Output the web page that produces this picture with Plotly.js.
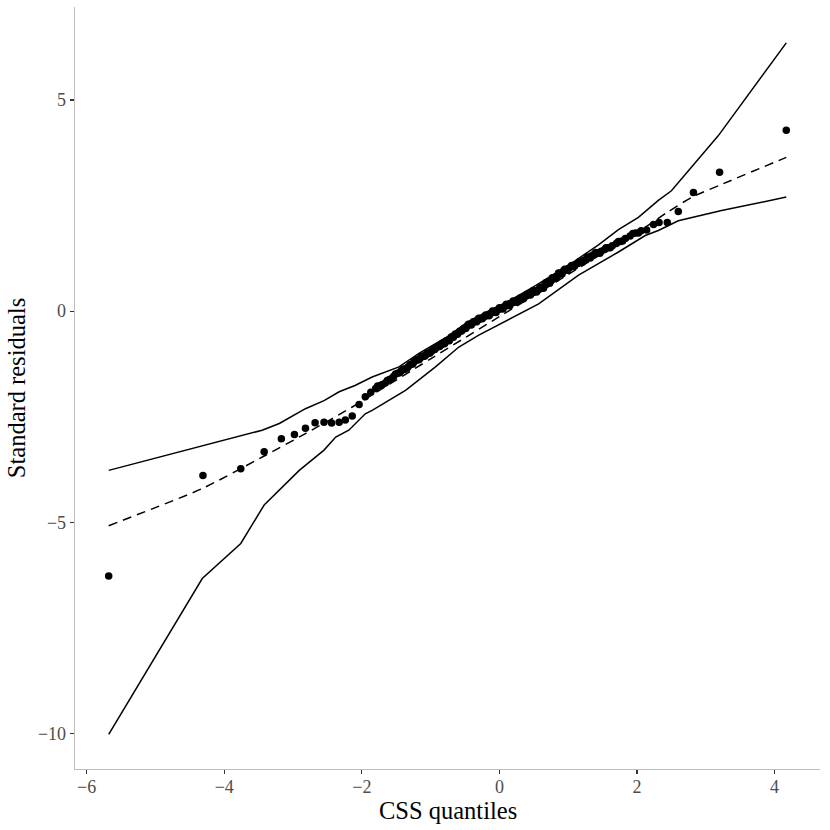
<!DOCTYPE html>
<html>
<head>
<meta charset="utf-8">
<script src="https://cdn.plot.ly/plotly-3.0.1.min.js"></script>
<style>html,body{margin:0;padding:0;background:#fff;}#chart{width:830px;height:830px;}</style>
</head>
<body>
<div id="chart"></div>
<script>
// Points: CSS quantiles (x) vs standard residuals (y)
var pointX = [-5.68,-4.31,-3.76,-3.42,-3.17,-2.98,-2.82,-2.68,-2.55,-2.44,-2.33,-2.24,-2.14,-2.04,-1.95,-1.87,-1.80,-1.73,-1.66,-1.60,-1.54,-1.48,-1.43,-1.38,-1.33,-1.28,-1.24,-1.19,-1.15,-1.11,-1.07,-1.03,-0.99,-0.96,-0.92,-0.89,-0.85,-0.82,-0.79,-0.75,-0.72,-0.69,-0.66,-0.63,-0.60,-0.57,-0.54,-0.51,-0.48,-0.46,-0.43,-0.40,-0.37,-0.35,-0.32,-0.29,-0.27,-0.24,-0.22,-0.19,-0.16,-0.14,-0.11,-0.09,-0.06,-0.04,-0.01,0.01,0.04,0.06,0.09,0.11,0.14,0.16,0.19,0.21,0.24,0.26,0.29,0.31,0.34,0.36,0.39,0.42,0.44,0.47,0.50,0.52,0.55,0.58,0.61,0.63,0.66,0.69,0.72,0.75,0.78,0.81,0.84,0.87,0.90,0.93,0.97,1.00,1.03,1.07,1.10,1.14,1.18,1.22,1.26,1.30,1.34,1.38,1.43,1.48,1.53,1.58,1.64,1.70,1.76,1.83,1.90,1.98,2.06,2.14,2.24,2.32,2.44,2.60,2.82,3.20,4.17];
var pointY = [-6.27,-3.89,-3.73,-3.33,-3.02,-2.92,-2.77,-2.64,-2.63,-2.65,-2.63,-2.58,-2.48,-2.21,-2.03,-1.92,-1.83,-1.76,-1.70,-1.62,-1.55,-1.47,-1.42,-1.38,-1.32,-1.26,-1.20,-1.15,-1.11,-1.07,-1.04,-1.00,-0.95,-0.91,-0.87,-0.84,-0.80,-0.77,-0.74,-0.69,-0.66,-0.62,-0.58,-0.55,-0.51,-0.47,-0.44,-0.40,-0.37,-0.34,-0.31,-0.29,-0.26,-0.24,-0.21,-0.19,-0.17,-0.15,-0.13,-0.11,-0.08,-0.06,-0.04,-0.02,0.00,0.02,0.04,0.06,0.08,0.10,0.12,0.14,0.16,0.18,0.20,0.22,0.24,0.26,0.28,0.30,0.32,0.34,0.36,0.39,0.41,0.43,0.45,0.47,0.49,0.52,0.55,0.58,0.61,0.65,0.69,0.72,0.76,0.80,0.84,0.88,0.91,0.95,0.98,1.01,1.04,1.07,1.10,1.13,1.16,1.20,1.23,1.27,1.31,1.35,1.38,1.42,1.46,1.50,1.55,1.60,1.65,1.72,1.78,1.85,1.90,1.92,2.05,2.10,2.10,2.36,2.81,3.29,4.28];
// Further points in the dense central band
var bandX = [-1.77,-1.70,-1.63,-1.57,-1.51,-1.45,-1.40,-1.35,-1.30,-1.26,-1.21,-1.17,-1.13,-1.09,-1.05,-1.01,-0.97,-0.94,-0.90,-0.87,-0.83,-0.80,-0.77,-0.73,-0.70,-0.67,-0.64,-0.61,-0.58,-0.55,-0.52,-0.49,-0.45,-0.41,-0.38,-0.33,-0.30,-0.25,-0.20,-0.15,-0.10,-0.05,0.00,0.05,0.10,0.15,0.20,0.25,0.30,0.35,0.40,0.45,0.49,0.54,0.59,0.64,0.68,0.73,0.77,0.82,0.86,0.91,0.95,0.99,1.05,1.09,1.16,1.20,1.28,1.32,1.40,1.46,1.55,1.61,1.73,1.79,1.94,2.02];
var bandY = [-1.77,-1.74,-1.64,-1.60,-1.49,-1.46,-1.37,-1.36,-1.27,-1.25,-1.16,-1.15,-1.07,-1.07,-0.99,-0.99,-0.92,-0.91,-0.84,-0.84,-0.76,-0.77,-0.70,-0.70,-0.61,-0.62,-0.54,-0.55,-0.48,-0.47,-0.41,-0.41,-0.31,-0.33,-0.25,-0.25,-0.17,-0.18,-0.09,-0.11,0.00,-0.03,0.08,0.05,0.16,0.13,0.24,0.21,0.31,0.29,0.40,0.38,0.48,0.45,0.56,0.54,0.68,0.66,0.79,0.77,0.90,0.88,0.99,0.97,1.08,1.06,1.17,1.15,1.28,1.26,1.39,1.37,1.50,1.50,1.65,1.66,1.84,1.85];

// Dashed reference curve
var refX = [-5.68,-4.32,-3.42,-2.82,-2.14,-1.00,0.00,1.00,2.12,2.45,2.80,3.20,4.17];
var refY = [-5.08,-4.20,-3.43,-2.90,-2.27,-1.13,-0.13,0.87,1.99,2.35,2.70,2.98,3.64];

// Upper envelope
var upX = [-5.68,-4.30,-3.45,-3.20,-2.82,-2.55,-2.33,-2.10,-1.85,-1.46,-1.17,-0.88,-0.59,0.00,0.50,1.00,1.44,1.73,2.02,2.31,2.50,3.18,4.17];
var upY = [-3.77,-3.19,-2.82,-2.66,-2.31,-2.12,-1.91,-1.76,-1.56,-1.32,-1.00,-0.72,-0.45,0.10,0.58,1.08,1.57,1.93,2.22,2.62,2.85,4.15,6.35];

// Lower envelope
var loX = [-5.68,-4.32,-3.76,-3.42,-2.91,-2.55,-2.38,-2.19,-1.95,-1.85,-1.36,-0.93,-0.59,-0.30,0.57,1.15,1.73,2.12,2.31,2.60,3.23,4.17];
var loY = [-10.02,-6.33,-5.50,-4.59,-3.77,-3.29,-2.98,-2.82,-2.43,-2.35,-1.87,-1.32,-0.85,-0.57,0.17,0.85,1.40,1.79,1.91,2.14,2.38,2.70];

var xTicks = [-6,-4,-2,0,2,4];
var yTicks = [-10,-5,0,5];

var serif = "'Liberation Serif', 'Times New Roman', serif";

var traces = [
  {x: upX, y: upY, type: 'scatter', mode: 'lines', line: {color: '#000', width: 1.5}, hoverinfo: 'skip'},
  {x: loX, y: loY, type: 'scatter', mode: 'lines', line: {color: '#000', width: 1.5}, hoverinfo: 'skip'},
  {x: refX, y: refY, type: 'scatter', mode: 'lines', line: {color: '#000', width: 1.5, dash: '9px,6px', shape: 'spline', smoothing: 0.6}, hoverinfo: 'skip'},
  {x: pointX.concat(bandX), y: pointY.concat(bandY), type: 'scatter', mode: 'markers', marker: {color: '#000', size: 7.5}}
];

var axisCommon = {
  showgrid: false, zeroline: false, showline: true,
  linecolor: '#BEBEBE', linewidth: 1.3,
  ticks: 'outside', ticklen: 4, tickwidth: 1.2, tickcolor: '#333333',
  tickfont: {family: serif, size: 18, color: '#4D4D4D'},
  mirror: false
};

var layout = {
  width: 830, height: 830,
  margin: {l: 75, r: 10, t: 7, b: 61},
  paper_bgcolor: '#fff', plot_bgcolor: '#fff',
  showlegend: false,
  xaxis: Object.assign({}, axisCommon, {
    range: [-6.17, 4.66], tickvals: xTicks, ticklabelstandoff: -3
  }),
  yaxis: Object.assign({}, axisCommon, {
    range: [-10.84, 7.2], tickvals: yTicks,
    title: {text: 'Standard residuals', font: {family: serif, size: 24.5, color: '#000'}, standoff: 5}
  }),
  annotations: [{
    text: 'CSS quantiles', xref: 'paper', yref: 'paper', x: 0.5, y: -0.054,
    xanchor: 'center', yanchor: 'middle', showarrow: false,
    font: {family: serif, size: 24.5, color: '#000'}
  }]
};

Plotly.newPlot('chart', traces, layout, {displayModeBar: false, staticPlot: true});
</script>
</body>
</html>
